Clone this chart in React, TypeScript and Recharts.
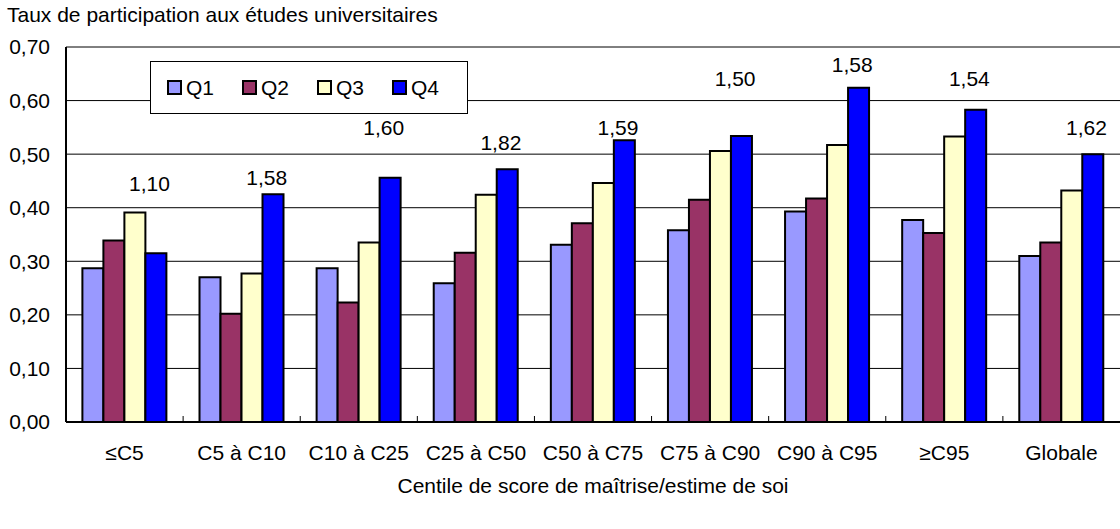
import React from 'react'
import {
  ComposedChart,
  Bar,
  Line,
  XAxis,
  YAxis,
  CartesianGrid,
  LabelList,
} from 'recharts'

const categories = ['≤C5', 'C5 à C10', 'C10 à C25', 'C25 à C50', 'C50 à C75', 'C75 à C90', 'C90 à C95', '≥C95', 'Globale']
const q1 = [0.287, 0.27, 0.287, 0.259, 0.331, 0.358, 0.393, 0.377, 0.31]
const q2 = [0.339, 0.202, 0.223, 0.316, 0.371, 0.415, 0.417, 0.353, 0.335]
const q3 = [0.391, 0.277, 0.335, 0.424, 0.446, 0.506, 0.517, 0.533, 0.432]
const q4 = [0.315, 0.425, 0.456, 0.472, 0.526, 0.534, 0.624, 0.583, 0.5]
// Q4/Q1 ratio labels and the height (axis units) they sit at
const ratios = ['1,10', '1,58', '1,60', '1,82', '1,59', '1,50', '1,58', '1,54', '1,62']
const ratioLevels = [0.445, 0.456, 0.549, 0.521, 0.549, 0.641, 0.667, 0.641, 0.549]
const yTicks = [0, 0.1, 0.2, 0.3, 0.4, 0.5, 0.6, 0.7]

const series = [
  { key: 'Q1', color: '#9999FF' },
  { key: 'Q2', color: '#993366' },
  { key: 'Q3', color: '#FFFFCC' },
  { key: 'Q4', color: '#0000FF' },
]

const data = categories.map((name, i) => ({
  name,
  Q1: q1[i],
  Q2: q2[i],
  Q3: q3[i],
  Q4: q4[i],
  ratio: ratios[i],
  level: ratioLevels[i],
}))

const FONT = '"Liberation Sans", Arial, sans-serif'
const FS = 21
const BAND = (1120 - 66) / categories.length

const fmt = (v: number) => v.toFixed(2).replace('.', ',')

const XTick = ({ x, y, payload, index }: any) => {
  const axisY = y - 23
  return (
    <g>
      <text x={x} y={y} dy="0.71em" textAnchor="middle" fontSize={FS} fill="#000" fontFamily={FONT}>
        {payload.value}
      </text>
      {index < categories.length - 1 && (
        <line x1={x + BAND / 2} x2={x + BAND / 2} y1={axisY} y2={axisY - 6} stroke="#000" strokeWidth={1} />
      )}
    </g>
  )
}

const RatioLabel = ({ x, y, value }: any) => (
  <text x={x + 25} y={y} dy="0.35em" textAnchor="middle" fontSize={FS} fill="#000" fontFamily={FONT}>
    {value}
  </text>
)

// legend box drawn over the plot, as in the original
const LegendBox = () => (
  <div
    style={{
      position: 'absolute',
      left: 150,
      top: 61,
      width: 318,
      height: 53,
      border: '1px solid #000',
      background: '#fff',
      boxSizing: 'border-box',
      display: 'flex',
      alignItems: 'center',
      paddingLeft: 16,
    }}
  >
    {series.map((s) => (
      <div key={s.key} style={{ display: 'flex', alignItems: 'center', width: 80 }}>
        <span
          style={{
            display: 'inline-block',
            width: 11,
            height: 11,
            background: s.color,
            border: '2px solid #000',
            marginRight: 4,
          }}
        />
        <span style={{ fontSize: FS, fontFamily: FONT, color: '#000' }}>{s.key}</span>
      </div>
    ))}
  </div>
)

export default function App() {
  return (
    <div style={{ position: 'absolute', left: 0, top: 0, width: 1120, height: 529, background: '#fff' }}>
      <div
        style={{
          position: 'absolute',
          left: 7,
          top: 3,
          fontSize: FS,
          lineHeight: '24px',
          fontFamily: FONT,
          color: '#000',
          whiteSpace: 'nowrap',
        }}
      >
        Taux de participation aux études universitaires
      </div>
      <ComposedChart
        width={1120}
        height={529}
        data={data}
        margin={{ top: 47, right: 0, left: 0, bottom: 0 }}
        barCategoryGap="14%"
        barGap={0}
      >
        <CartesianGrid vertical={false} stroke="#000" strokeWidth={1} />
        <XAxis
          dataKey="name"
          height={107}
          tickLine={false}
          tickSize={0}
          tickMargin={23}
          axisLine={{ stroke: '#000', strokeWidth: 2 }}
          tick={<XTick />}
          interval={0}
          label={{
            value: 'Centile de score de maîtrise/estime de soi',
            position: 'insideBottom',
            offset: 36,
            fontSize: FS,
            fill: '#000',
            fontFamily: FONT,
          }}
        />
        <YAxis
          width={66}
          domain={[0, 0.7]}
          ticks={yTicks}
          tickFormatter={fmt}
          tickLine={false}
          tickSize={6}
          tickMargin={10}
          axisLine={{ stroke: '#000', strokeWidth: 2 }}
          tick={{ fontSize: FS, fill: '#000', fontFamily: FONT }}
          interval={0}
        />
        {series.map((s) => (
          <Bar key={s.key} dataKey={s.key} fill={s.color} stroke="#000" strokeWidth={2} isAnimationActive={false} />
        ))}
        <Line dataKey="level" stroke="none" dot={false} activeDot={false} legendType="none" isAnimationActive={false}>
          <LabelList dataKey="ratio" content={<RatioLabel />} />
        </Line>
      </ComposedChart>
      <LegendBox />
    </div>
  )
}
